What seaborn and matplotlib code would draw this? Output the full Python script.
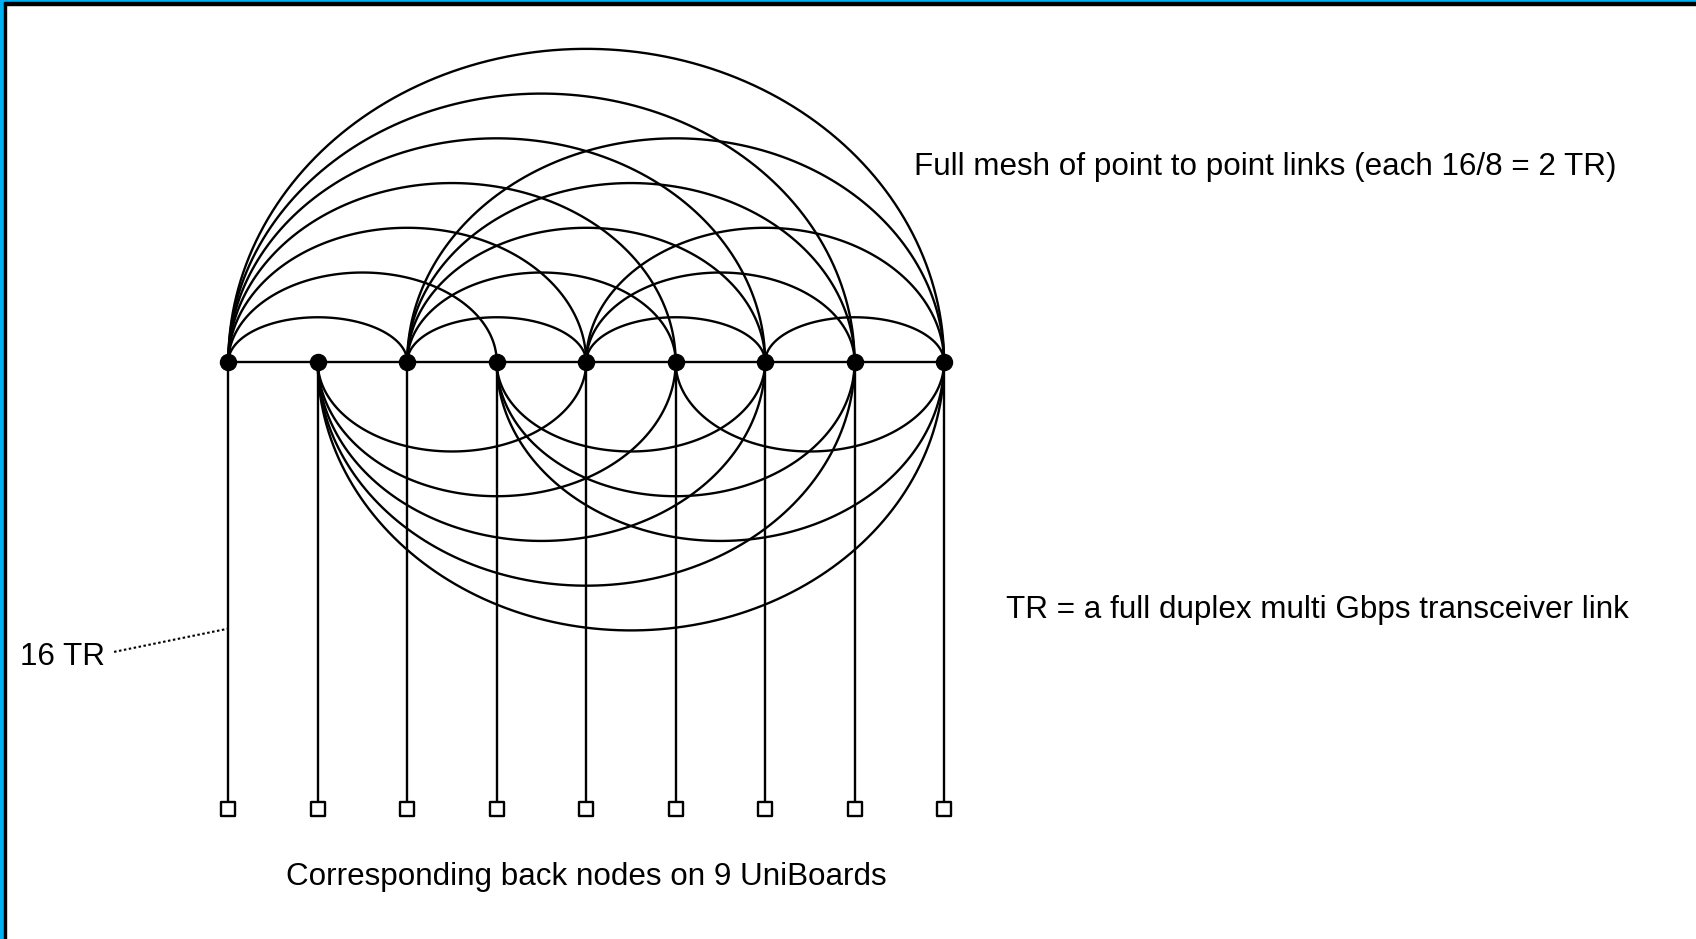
import matplotlib
matplotlib.use("Agg")
import matplotlib.pyplot as plt
from matplotlib.patches import Rectangle
import numpy as np
import pandas as pd
import seaborn as sns

# 9 front nodes, each linked to the others
nodes = list(range(9))
# arcs drawn over the bus line
above_edges = [(0, 2), (0, 3), (0, 4), (0, 5), (0, 6), (0, 7), (0, 8),
               (2, 4), (2, 5), (2, 6), (2, 7), (2, 8),
               (4, 6), (4, 7), (4, 8),
               (6, 8)]
# arcs drawn under the bus line
below_edges = [(1, 4), (1, 5), (1, 6), (1, 7), (1, 8),
               (3, 6), (3, 7), (3, 8),
               (5, 8)]
back_level = -5  # back node row

title_txt = "Full mesh of point to point links (each 16/8 = 2 TR)"
tr_txt = "TR = a full duplex multi Gbps transceiver link"
count_txt = "16 TR"
bottom_txt = "Corresponding back nodes on 9 UniBoards"

sns.set_style("white")
plt.rcParams['font.family'] = ['Liberation Sans', 'DejaVu Sans']
plt.rcParams['text.color'] = 'black'


def arc_points(a, b, side, n=120):
    # half ellipse between two nodes, height = half width - 0.5
    cx = (a + b) / 2
    rx = (b - a) / 2
    ry = rx - 0.5
    t = np.linspace(np.pi, 0, n)
    return cx + rx * np.cos(t), side * ry * np.sin(t)


rows = []
for side, edges in [(1, above_edges), (-1, below_edges)]:
    for a, b in edges:
        xs, ys = arc_points(a, b, side)
        for x, y in zip(xs, ys):
            rows.append({"edge": f"{a}-{b}-{side}", "x": x, "y": y})
arcs = pd.DataFrame(rows)
node_df = pd.DataFrame({"x": nodes, "y": [0] * len(nodes)})
back_df = pd.DataFrame({"x": nodes, "y": [back_level] * len(nodes)})

fig = plt.figure(figsize=(16.96, 9.39), dpi=100)
ax = fig.add_axes([0, 0, 1, 1])
ax.set_xlim(-2.552, 16.405)
ax.set_ylim(-6.449, 4.046)
ax.axis('off')

lw = 1.7
sns.lineplot(data=arcs, x="x", y="y", units="edge", estimator=None, sort=False,
             color="black", linewidth=lw, ax=ax, legend=False)
# bus line and stems to back nodes
ax.plot([nodes[0], nodes[-1]], [0, 0], color="black", lw=lw)
for n in nodes:
    ax.plot([n, n], [0, back_level], color="black", lw=lw)

sns.scatterplot(data=node_df, x="x", y="y", color="black", s=135, marker="o",
                edgecolor="black", ax=ax, zorder=5)
sns.scatterplot(data=back_df, x="x", y="y", color="white", s=115, marker="s",
                edgecolor="black", linewidth=1.7, ax=ax, zorder=5)
ax.set_xlabel("")
ax.set_ylabel("")

fs = 22.6
ax.text(7.66, 2.175, title_txt, fontsize=fs, va="center", ha="left", color="black")
ax.text(8.69, -2.775, tr_txt, fontsize=fs, va="center", ha="left", color="black")
ax.text(-2.334, -3.295, count_txt, fontsize=fs, va="center", ha="left", color="black")
ax.text(4.0, -5.755, bottom_txt, fontsize=fs, va="center", ha="center", color="black")
ax.plot([-1.277, 0], [-3.24, -2.98], color="black", lw=1.5, linestyle=(0, (1.2, 1.2)))

# slide frame: blue with a dark inner edge, left and top
W, H = 1696, 939
fig.add_artist(Rectangle((0, 0), 4 / W, 1, transform=fig.transFigure, color="#00B0F0", zorder=10))
fig.add_artist(Rectangle((4 / W, 0), 2 / W, 1 - 2 / H, transform=fig.transFigure, color="black", zorder=10))
fig.add_artist(Rectangle((0, 1 - 2 / H), 1, 2 / H, transform=fig.transFigure, color="#00B0F0", zorder=10))
fig.add_artist(Rectangle((4 / W, 1 - 5 / H), 1, 3 / H, transform=fig.transFigure, color="black", zorder=10))

fig.savefig("out.png", dpi=100)
